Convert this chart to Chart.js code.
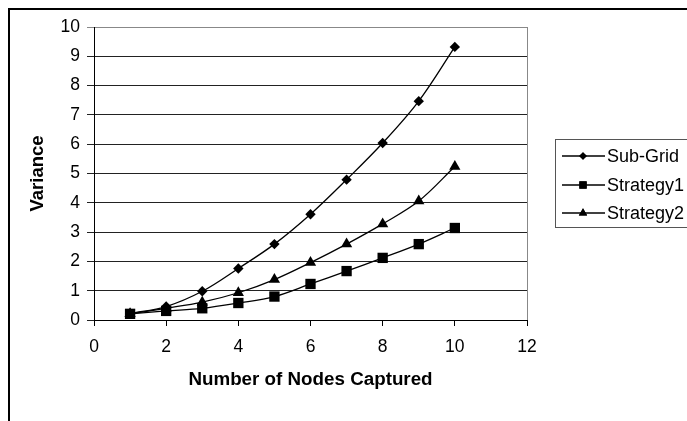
<!DOCTYPE html>
<html>
<head>
<meta charset="utf-8">
<script src="https://cdn.jsdelivr.net/npm/chart.js@4.4.1/dist/chart.umd.min.js"></script>
<style>
html,body{margin:0;padding:0;background:#fff;}
#wrap{width:687px;height:421px;position:relative;}
</style>
</head>
<body>
<div id="wrap"><canvas id="c" width="687" height="421"></canvas></div>
<script>
const nodes = [1, 2, 3, 4, 5, 6, 7, 8, 9, 10];
const subGrid = [0.22, 0.46, 0.98, 1.76, 2.59, 3.61, 4.79, 6.04, 7.47, 9.32];
const strategy1 = [0.21, 0.31, 0.4, 0.58, 0.8, 1.23, 1.67, 2.12, 2.59, 3.14];
const strategy2 = [0.21, 0.4, 0.61, 0.93, 1.38, 1.96, 2.59, 3.28, 4.06, 5.24];
const seriesNames = ['Sub-Grid', 'Strategy1', 'Strategy2'];
const markerStyles = ['rectRot', 'rect', 'triangle'];
const markerRadii = [5.2, 7.3, 6.5];
const legendRadii = [3.8, 5.2, 4.8];
const xTitle = 'Number of Nodes Captured';
const yTitle = 'Variance';

const FONT = "'Liberation Sans', Arial, sans-serif";

function pts(vals){ return nodes.map((n,i)=>({x:n, y:vals[i]})); }
const seriesVals = [subGrid, strategy1, strategy2];

const datasets = seriesVals.map((v,i)=>({
  label: seriesNames[i],
  data: pts(v),
  borderColor: '#000',
  backgroundColor: '#000',
  borderWidth: 1.3,
  pointStyle: markerStyles[i],
  pointRadius: markerRadii[i],
  pointBorderWidth: 0,
  pointBackgroundColor: '#000',
  tension: 0.35,
  fill: false
}));

const decor = {
  id: 'decor',
  afterDraw(chart){
    const ctx = chart.ctx;
    const a = chart.chartArea;
    ctx.save();
    ctx.strokeStyle = '#888';
    ctx.lineWidth = 1;
    ctx.beginPath();
    ctx.moveTo(Math.round(a.right)+0.5, a.top);
    ctx.lineTo(Math.round(a.right)+0.5, a.bottom);
    ctx.stroke();
    ctx.strokeStyle = '#000';
    ctx.lineWidth = 2;
    ctx.beginPath();
    ctx.moveTo(9, 421);
    ctx.lineTo(9, 9);
    ctx.lineTo(687, 9);
    ctx.stroke();
    const bx = 555.5, by = 139.5, bw = 140, bh = 88;
    ctx.lineWidth = 1;
    ctx.strokeStyle = '#555';
    ctx.strokeRect(bx, by, bw, bh);
    const rows = [156, 185, 213];
    ctx.font = '18px ' + FONT;
    ctx.fillStyle = '#000';
    ctx.textBaseline = 'middle';
    ctx.textAlign = 'left';
    chart.data.datasets.forEach((ds, i) => {
      const y = rows[i];
      ctx.strokeStyle = '#000';
      ctx.lineWidth = 1.3;
      ctx.beginPath();
      ctx.moveTo(562, y);
      ctx.lineTo(605, y);
      ctx.stroke();
      Chart.helpers.drawPoint(ctx, {pointStyle: ds.pointStyle, radius: legendRadii[i], borderWidth: 0, rotation: 0}, 583, y);
      ctx.fillStyle = '#000';
      ctx.fill();
      ctx.fillText(ds.label, 607, y + 1);
    });
    ctx.restore();
  }
};

new Chart(document.getElementById('c'), {
  type: 'line',
  data: { datasets },
  options: {
    responsive: false,
    animation: false,
    layout: { padding: { left: 0, right: 160, top: 27, bottom: 0 } },
    plugins: { legend: { display: false }, tooltip: { enabled: false } },
    scales: {
      x: {
        type: 'linear',
        min: 0, max: 12,
        ticks: { stepSize: 2, color: '#000', padding: 11, font: { family: FONT, size: 17.5 }, maxRotation: 0 },
        grid: { drawOnChartArea: false, color: '#000', tickLength: 6 },
        border: { display: true, color: '#000', width: 1 },
        title: { display: true, text: xTitle, color: '#000', font: { family: FONT, size: 18.8, weight: 'bold' }, padding: { top: 0, bottom: 30 } },
        afterFit(s){ s.height = 101; }
      },
      y: {
        min: 0, max: 10,
        ticks: { stepSize: 1, color: '#000', padding: 7, font: { family: FONT, size: 17.5 } },
        grid: { color: (c) => (c.tick && c.tick.value === 10) ? '#888' : '#222', tickLength: 7 },
        border: { display: true, color: '#000', width: 1 },
        title: { display: true, text: yTitle, color: '#000', font: { family: FONT, size: 18.5, weight: 'bold' }, padding: { top: 27, bottom: 0 } },
        afterFit(s){ s.width = 94; }
      }
    }
  },
  plugins: [decor]
});
</script>
</body>
</html>
